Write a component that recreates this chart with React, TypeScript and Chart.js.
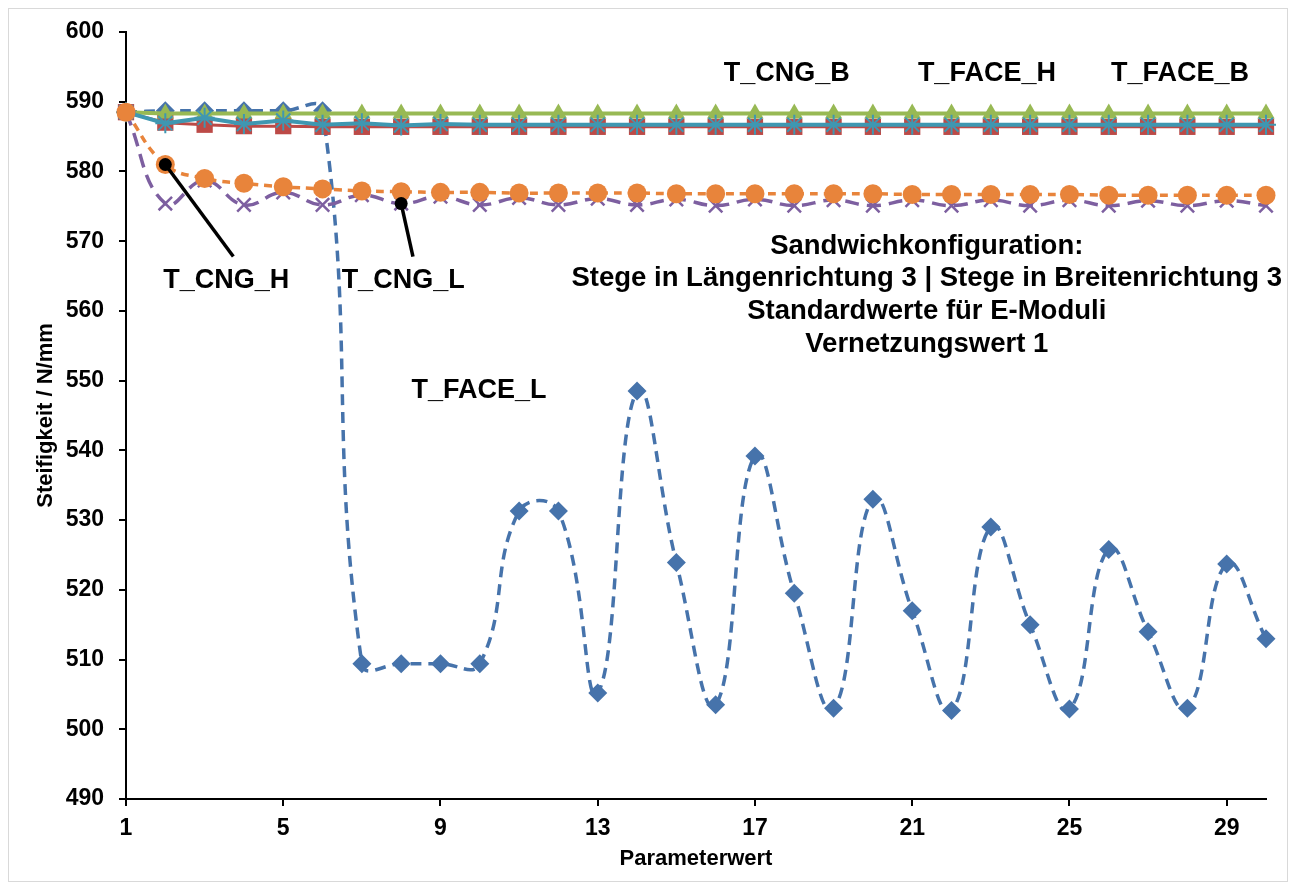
import React, { useEffect, useRef } from "react";
import { Chart, registerables } from "chart.js";

Chart.register(...registerables);

// ---- Data ----
const params = [1, 2, 3, 4, 5, 6, 7, 8, 9, 10, 11, 12, 13, 14, 15, 16, 17, 18, 19, 20, 21, 22, 23, 24, 25, 26, 27, 28, 29, 30];
const xTickValues = [1, 5, 9, 13, 17, 21, 25, 29];
const yMin = 490;
const yMax = 600;
const yStep = 10;

const tFaceL = [588.5, 588.7, 588.7, 588.7, 588.7, 588.7, 509.4, 509.4, 509.4, 509.4, 531.3, 531.3, 505.2, 548.5, 523.9, 503.5, 539.2, 519.5, 503.0, 533.0, 517.0, 502.7, 529.0, 515.0, 502.9, 525.8, 514.0, 503.0, 523.7, 513.0];
const tFaceH = [588.5, 587.0, 586.7, 586.5, 586.5, 586.4, 586.4, 586.4, 586.4, 586.4, 586.4, 586.4, 586.4, 586.4, 586.4, 586.4, 586.4, 586.4, 586.4, 586.4, 586.4, 586.4, 586.4, 586.4, 586.4, 586.4, 586.4, 586.4, 586.4, 586.4];
const tCngB = [588.5, 588.3, 588.3, 588.3, 588.3, 588.3, 588.3, 588.3, 588.3, 588.3, 588.3, 588.3, 588.3, 588.3, 588.3, 588.3, 588.3, 588.3, 588.3, 588.3, 588.3, 588.3, 588.3, 588.3, 588.3, 588.3, 588.3, 588.3, 588.3, 588.3];
const tCngL = [588.5, 575.4, 578.7, 575.2, 577.0, 575.2, 576.6, 575.4, 576.4, 575.2, 576.2, 575.2, 576.1, 575.2, 576.0, 575.1, 576.0, 575.1, 575.9, 575.1, 575.9, 575.1, 575.9, 575.1, 575.9, 575.1, 575.8, 575.1, 575.8, 575.1];
const tFaceB = [588.5, 586.9, 587.7, 586.8, 587.3, 586.7, 586.9, 586.6, 586.8, 586.7, 586.7, 586.7, 586.7, 586.7, 586.7, 586.7, 586.7, 586.7, 586.7, 586.7, 586.7, 586.7, 586.7, 586.7, 586.7, 586.7, 586.7, 586.7, 586.7, 586.7];
const tCngH = [588.5, 581.0, 579.0, 578.3, 577.8, 577.5, 577.2, 577.1, 577.0, 577.0, 576.9, 576.9, 576.9, 576.9, 576.8, 576.8, 576.8, 576.8, 576.8, 576.8, 576.7, 576.7, 576.7, 576.7, 576.7, 576.6, 576.6, 576.6, 576.6, 576.6];

const xTitle = "Parameterwert";
const yTitle = "Steifigkeit / N/mm";

// Text annotations (data coordinates)
const seriesLabels = [
  { text: "T_CNG_B", x: 17.81, y: 594.1 },
  { text: "T_FACE_H", x: 22.9, y: 594.1 },
  { text: "T_FACE_B", x: 27.81, y: 594.1 },
  { text: "T_CNG_H", x: 3.55, y: 564.4 },
  { text: "T_CNG_L", x: 8.05, y: 564.4 },
  { text: "T_FACE_L", x: 9.98, y: 548.6 },
];
const infoLines = [
  "Sandwichkonfiguration:",
  "Stege in Längenrichtung 3 | Stege in Breitenrichtung 3",
  "Standardwerte für E-Moduli",
  "Vernetzungswert 1",
];
const infoPos = { x: 21.37, y: 569.3, lineStep: 4.7 };
// Callouts: from a data point (series, index) to a label end (data coordinates)
const callouts = [
  { series: tCngH, index: 1, toX: 3.73, toY: 567.8 },
  { series: tCngL, index: 7, toX: 8.3, toY: 567.8 },
];

const FONT = "'Liberation Sans', Arial, Helvetica, sans-serif";

const annotationPlugin = {
  id: "annotations",
  afterDatasetsDraw(chart: any) {
    const { ctx } = chart;
    const xs = chart.scales.x;
    const ys = chart.scales.y;
    ctx.save();
    callouts.forEach((c) => {
      const x0 = xs.getPixelForValue(params[c.index]);
      const y0 = ys.getPixelForValue(c.series[c.index]);
      const x1 = xs.getPixelForValue(c.toX);
      const y1 = ys.getPixelForValue(c.toY);
      ctx.strokeStyle = "#000";
      ctx.lineWidth = 3.5;
      ctx.setLineDash([]);
      ctx.beginPath();
      ctx.moveTo(x0, y0);
      ctx.lineTo(x1, y1);
      ctx.stroke();
      ctx.fillStyle = "#000";
      ctx.beginPath();
      ctx.arc(x0, y0, 6.5, 0, Math.PI * 2);
      ctx.fill();
    });
    ctx.fillStyle = "#000";
    ctx.textAlign = "center";
    ctx.textBaseline = "middle";
    ctx.font = `bold 27px ${FONT}`;
    seriesLabels.forEach((l) => {
      ctx.fillText(l.text, xs.getPixelForValue(l.x), ys.getPixelForValue(l.y));
    });
    ctx.font = `bold 27.5px ${FONT}`;
    infoLines.forEach((t, i) => {
      ctx.fillText(t, xs.getPixelForValue(infoPos.x), ys.getPixelForValue(infoPos.y - i * infoPos.lineStep));
    });
    ctx.restore();
  },
};

type SeriesDef = {
  label: string;
  data: number[];
  color: string;
  pointStyle: string;
  radius: number;
  dash: number[];
  tension: number;
  width: number;
  pointBorder: number;
};

// Excel series order: later series drawn on top
const seriesDefs: SeriesDef[] = [
  { label: "T_FACE_L", data: tFaceL, color: "#4673AB", pointStyle: "rectRot", radius: 9.5, dash: [11, 7], tension: 0.45, width: 3.5, pointBorder: 0 },
  { label: "T_FACE_H", data: tFaceH, color: "#BC4A47", pointStyle: "rect", radius: 11.5, dash: [], tension: 0, width: 3, pointBorder: 0 },
  { label: "T_CNG_B", data: tCngB, color: "#98B954", pointStyle: "triangle", radius: 10, dash: [], tension: 0, width: 4, pointBorder: 0 },
  { label: "T_CNG_L", data: tCngL, color: "#7D5FA0", pointStyle: "crossRot", radius: 9.5, dash: [14, 8], tension: 0.45, width: 3.5, pointBorder: 2.5 },
  { label: "T_FACE_B", data: tFaceB, color: "#3F97B1", pointStyle: "star", radius: 10, dash: [], tension: 0, width: 4, pointBorder: 2 },
  { label: "T_CNG_H", data: tCngH, color: "#E8843B", pointStyle: "circle", radius: 9.5, dash: [8, 6], tension: 0.45, width: 3.5, pointBorder: 0 },
];

export default function App() {
  const canvasRef = useRef<HTMLCanvasElement | null>(null);

  useEffect(() => {
    if (!canvasRef.current) return;
    const datasets = seriesDefs.map((s, i) => ({
      label: s.label,
      data: params.map((p, k) => ({ x: p, y: s.data[k] })),
      borderColor: s.color,
      backgroundColor: s.color,
      borderWidth: s.width,
      borderDash: s.dash,
      tension: s.tension,
      pointStyle: s.pointStyle,
      pointRadius: s.radius,
      pointBackgroundColor: s.color,
      pointBorderColor: s.color,
      pointBorderWidth: s.pointBorder,
      clip: false,
      order: seriesDefs.length - i,
    }));

    const tickFont = { family: FONT, size: 23, weight: "bold" as const };
    const titleFont = { family: FONT, size: 22, weight: "bold" as const };

    const chart = new Chart(canvasRef.current, {
      type: "line",
      data: { datasets },
      plugins: [annotationPlugin],
      options: {
        animation: false,
        responsive: false,
        events: [],
        layout: { padding: { left: 0, right: 21, top: 23, bottom: 0 } },
        plugins: { legend: { display: false }, tooltip: { enabled: false } },
        scales: {
          x: {
            type: "linear",
            min: 1,
            max: 30,
            afterBuildTicks: (scale: any) => {
              scale.ticks = xTickValues.map((v) => ({ value: v }));
            },
            afterFit: (scale: any) => {
              scale.height = 82;
              scale.paddingLeft = 0;
              scale.paddingRight = 0;
            },
            ticks: { font: tickFont, color: "#000", padding: 9, maxRotation: 0, autoSkip: false },
            grid: { drawOnChartArea: false, drawTicks: true, tickLength: 7, color: "#000", lineWidth: 2 },
            border: { display: true, color: "#000", width: 2 },
            title: { display: true, text: xTitle, font: titleFont, color: "#000", padding: { top: 0, bottom: 9 } },
          },
          y: {
            type: "linear",
            min: yMin,
            max: yMax,
            afterFit: (scale: any) => {
              scale.width = 117;
              scale.paddingTop = 0;
              scale.paddingBottom = 0;
            },
            ticks: { stepSize: yStep, font: tickFont, color: "#000", padding: 15 },
            grid: { drawOnChartArea: false, drawTicks: true, tickLength: 7, color: "#000", lineWidth: 2 },
            border: { display: true, color: "#000", width: 2 },
            title: { display: true, text: yTitle, font: titleFont, color: "#000", padding: { top: 24, bottom: 0 } },
          },
        },
      },
    });
    return () => chart.destroy();
  }, []);

  return (
    <div style={{ width: 1278, height: 872, border: "1px solid #d9d9d9", background: "#fff" }}>
      <canvas ref={canvasRef} width={1278} height={872} style={{ display: "block", width: 1278, height: 872 }} />
    </div>
  );
}
